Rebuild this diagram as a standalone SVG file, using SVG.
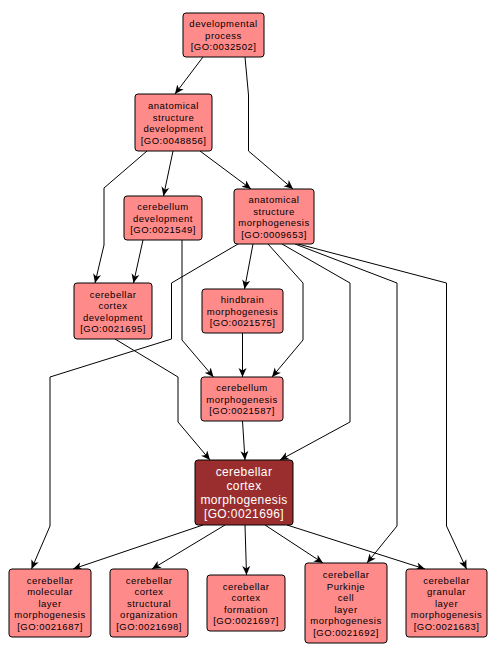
<svg xmlns="http://www.w3.org/2000/svg" width="498" height="656" viewBox="0 0 498 656">
<defs>
<marker id="arr" markerUnits="userSpaceOnUse" markerWidth="10" markerHeight="10" viewBox="0 0 10 10" refX="9" refY="5" orient="auto">
<path d="M0,1 L9,5 L0,9 L2.5,5 z" fill="#000"/>
</marker>
<style>
.n rect{fill:#ff8a8a;stroke:#000;stroke-width:1}
.n text{font-family:"Liberation Sans",Arial,sans-serif;font-size:9.5px;letter-spacing:0.5px;text-anchor:middle;fill:#000}
.d rect{fill:#9a2e2e;stroke:#000;stroke-width:1}
.d text{font-family:"Liberation Sans",Arial,sans-serif;font-size:12px;letter-spacing:0.4px;text-anchor:middle;fill:#fff}
.e path{fill:none;stroke:#000;stroke-width:1;marker-end:url(#arr)}
</style>
</defs>
<rect width="498" height="656" fill="#fff"/>
<g id="edges" class="e">
<path d="M203,57 L175,94"/>
<path d="M245,57 L248.5,95 L248.5,151 L293,189"/>
<path d="M173,151 L163.5,196"/>
<path d="M200,151 L251,189"/>
<path d="M147,151 L104,188 L104,245 L95,283"/>
<path d="M143,240 L133.5,283"/>
<path d="M182,240 L182,340 L213.5,377"/>
<path d="M253,244 L244.5,289"/>
<path d="M268,244 L303,283 L303,340 L272,377"/>
<path d="M238,244 L171.5,283 L171.5,339 L50,377 L50,526 L31.5,569"/>
<path d="M282,244 L350,283 L350,422 L280,460"/>
<path d="M295,244 L397,283 L397,526 L367,563"/>
<path d="M298,244 L446.5,283 L446.5,526 L466.5,569"/>
<path d="M115,339 L178,377 L178,422 L210,460"/>
<path d="M242.5,333 L242.5,377"/>
<path d="M242.5,421 L245,460"/>
<path d="M203,525 L73,569"/>
<path d="M225,525 L152,569"/>
<path d="M245,525 L246.5,575"/>
<path d="M265,525 L323,563"/>
<path d="M287,525 L425,569"/>
</g>
<g id="GO0032502" class="n"><rect x="183" y="13" width="81" height="44" rx="3"/>
<text x="223.5" y="27">developmental</text><text x="223.5" y="38.5">process</text><text x="223.5" y="50">[GO:0032502]</text></g>
<g id="GO0048856" class="n"><rect x="135" y="94" width="77" height="57" rx="3"/>
<text x="173.5" y="109">anatomical</text><text x="173.5" y="120.5">structure</text><text x="173.5" y="132">development</text><text x="173.5" y="143.5">[GO:0048856]</text></g>
<g id="GO0021549" class="n"><rect x="124" y="196" width="78" height="44" rx="3"/>
<text x="163" y="210">cerebellum</text><text x="163" y="221.5">development</text><text x="163" y="233">[GO:0021549]</text></g>
<g id="GO0009653" class="n"><rect x="234" y="189" width="80" height="55" rx="3"/>
<text x="274" y="203">anatomical</text><text x="274" y="214.5">structure</text><text x="274" y="226">morphogenesis</text><text x="274" y="237.5">[GO:0009653]</text></g>
<g id="GO0021695" class="n"><rect x="74" y="283" width="78" height="56" rx="3"/>
<text x="113" y="297.5">cerebellar</text><text x="113" y="309">cortex</text><text x="113" y="320.5">development</text><text x="113" y="332">[GO:0021695]</text></g>
<g id="GO0021575" class="n"><rect x="202" y="289" width="81" height="44" rx="3"/>
<text x="242.5" y="303">hindbrain</text><text x="242.5" y="314.5">morphogenesis</text><text x="242.5" y="326">[GO:0021575]</text></g>
<g id="GO0021587" class="n"><rect x="201" y="377" width="82" height="44" rx="3"/>
<text x="242" y="391">cerebellum</text><text x="242" y="402.5">morphogenesis</text><text x="242" y="414">[GO:0021587]</text></g>
<g id="GO0021696" class="d"><rect x="195" y="460" width="98" height="65" rx="3"/>
<text x="244" y="476">cerebellar</text><text x="244" y="490">cortex</text><text x="244" y="504">morphogenesis</text><text x="244" y="517.5">[GO:0021696]</text></g>
<g id="GO0021687" class="n"><rect x="9" y="569" width="82" height="68" rx="3"/>
<text x="50" y="583.5">cerebellar</text><text x="50" y="595">molecular</text><text x="50" y="606.5">layer</text><text x="50" y="618">morphogenesis</text><text x="50" y="629.5">[GO:0021687]</text></g>
<g id="GO0021698" class="n"><rect x="110" y="569" width="78" height="68" rx="3"/>
<text x="149" y="583.5">cerebellar</text><text x="149" y="595">cortex</text><text x="149" y="606.5">structural</text><text x="149" y="618">organization</text><text x="149" y="629.5">[GO:0021698]</text></g>
<g id="GO0021697" class="n"><rect x="207" y="575" width="78" height="56" rx="3"/>
<text x="246" y="589.5">cerebellar</text><text x="246" y="601">cortex</text><text x="246" y="612.5">formation</text><text x="246" y="624">[GO:0021697]</text></g>
<g id="GO0021692" class="n"><rect x="305" y="563" width="82" height="80" rx="3"/>
<text x="346" y="578">cerebellar</text><text x="346" y="589.5">Purkinje</text><text x="346" y="601">cell</text><text x="346" y="612.5">layer</text><text x="346" y="624">morphogenesis</text><text x="346" y="635.5">[GO:0021692]</text></g>
<g id="GO0021683" class="n"><rect x="406" y="569" width="81" height="68" rx="3"/>
<text x="446.5" y="583.5">cerebellar</text><text x="446.5" y="595">granular</text><text x="446.5" y="606.5">layer</text><text x="446.5" y="618">morphogenesis</text><text x="446.5" y="629.5">[GO:0021683]</text></g>
</svg>
